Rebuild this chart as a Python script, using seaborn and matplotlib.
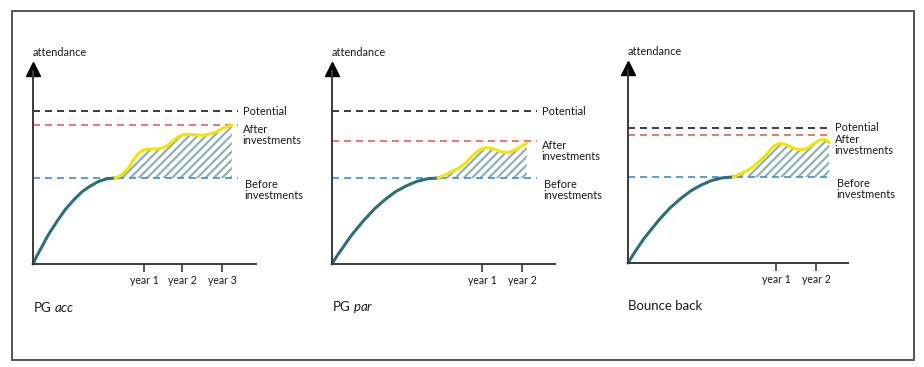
import pandas as pd
import seaborn as sns
import matplotlib.pyplot as plt
from matplotlib.patches import Rectangle

# niveaux de fréquentation (0 = origine, 100 = pointe de la flèche)
titles = ["PG $\\it{acc}$", "PG $\\it{par}$", "Bounce back"]
potential = [76.1, 76.1, 67.2]
after = [69.2, 61.2, 63.7]
before = [42.8, 42.8, 42.8]

tick_pos = [[2.78, 3.73, 4.73], [3.75, 4.75], [3.7, 4.7]]
tick_labels = [["year 1", "year 2", "year 3"], ["year 1", "year 2"], ["year 1", "year 2"]]

# montée avant investissements (courbe verte)
ramp_x1 = [0, 0.10, 0.21, 0.31, 0.41, 0.62, 0.82, 1.03, 1.23, 1.44, 1.64, 1.85, 2.05]
ramp_x2 = [0, 0.13, 0.27, 0.40, 0.53, 0.80, 1.06, 1.33, 1.59, 1.86, 2.12, 2.39, 2.65]
ramp_x3 = [0, 0.13, 0.26, 0.39, 0.53, 0.79, 1.05, 1.32, 1.58, 1.84, 2.10, 2.37, 2.63]
ramp_y = [0, 4.2, 8.1, 11.9, 15.4, 21.8, 27.4, 32.1, 36.0, 38.9, 41.1, 42.4, 42.8]

# après investissements (courbe jaune)
gain_x1 = [2.05, 2.22, 2.38, 2.51, 2.63, 2.76, 2.93, 3.09, 3.26, 3.38,
           3.51, 3.63, 3.76, 3.93, 4.09, 4.26, 4.43, 4.59, 4.76, 4.97]
gain_y1 = [42.8, 44.3, 47.6, 51.7, 55.0, 56.7, 57.2, 57.2, 57.9, 59.2,
           61.3, 63.3, 64.3, 64.5, 64.2, 64.0, 64.7, 65.8, 67.8, 69.0]
gain_x2 = [2.65, 2.83, 2.99, 3.16, 3.33, 3.49, 3.66, 3.83, 3.99, 4.16, 4.33, 4.49, 4.66, 4.87]
gain_y2 = [42.8, 44.3, 46.0, 47.6, 50.1, 53.4, 56.4, 57.9, 57.6, 56.4, 55.4, 55.9, 57.6, 60.2]
gain_x3 = [2.63, 2.80, 2.97, 3.13, 3.30, 3.47, 3.63, 3.78, 3.93, 4.09,
           4.30, 4.47, 4.63, 4.80, 4.93, 5.03]
gain_y3 = [42.8, 44.3, 45.9, 47.9, 50.9, 54.2, 57.9, 59.5, 59.0, 57.6,
           56.2, 56.9, 59.2, 61.2, 61.5, 59.9]

ramps = [(ramp_x1, ramp_y), (ramp_x2, ramp_y), (ramp_x3, ramp_y)]
gains = [(gain_x1, gain_y1), (gain_x2, gain_y2), (gain_x3, gain_y3)]

sns.set_style("white")
plt.rcParams["font.family"] = ["Lato", "DejaVu Sans"]
plt.rcParams["mathtext.fontset"] = "custom"
plt.rcParams["mathtext.rm"] = "Lato"
plt.rcParams["mathtext.it"] = "Lato:italic"
plt.rcParams["hatch.linewidth"] = 1.6

W, H = 924, 367
fig = plt.figure(figsize=(W / 100, H / 100), dpi=100)

# cadre autour de la figure
fig.patches.append(Rectangle((12 / W, 7 / H), 902 / W, 349 / H, transform=fig.transFigure,
                             fill=False, edgecolor="#555555", linewidth=1.4))

# position des panneaux en pixels (gauche, bas de l'axe, largeur)
panels = [(33, 264, 223), (332, 264, 223), (628, 263, 220)]
axis_col = "#3a3a3a"
txt_col = "#1a1a1a"
dash = (4.2, 3)

for i, (px, py, pw) in enumerate(panels):
    ax = fig.add_axes([px / W, (H - py) / H, pw / W, 201 / H])
    ax.set_xlim(0, pw / 40)
    ax.set_ylim(0, 100)
    ax.patch.set_alpha(0)
    for s in ["top", "right"]:
        ax.spines[s].set_visible(False)
    for s in ["left", "bottom"]:
        ax.spines[s].set_color(axis_col)
        ax.spines[s].set_linewidth(1.4)
    ax.spines["left"].set_bounds(0, 96)

    ax.set_yticks([])
    ax.set_xticks(tick_pos[i])
    ax.set_xticklabels(tick_labels[i], fontsize=7.6, color=txt_col)
    ax.tick_params(axis="x", bottom=True, length=6, width=1.2, color=axis_col,
                   pad=2, direction="out")

    # flèche de l'axe vertical
    ax.plot([0], [96.8], marker="^", markersize=9.4, color="black", clip_on=False)
    ax.text(0, 105, "attendance", fontsize=7.8, ha="left", va="center", color=txt_col)
    ax.text(0, -21.5, titles[i], fontsize=9.5, ha="left", va="center", color=txt_col)

    gx, gy = gains[i]
    ax.fill_between(gx, before[i], gy, facecolor="none", edgecolor="#8fb1b8",
                    hatch="////", linewidth=0)

    line_end = (pw - 18) / 40
    for lvl, col in [(potential[i], txt_col), (after[i], "#e8605c"), (before[i], "#3b8fd0")]:
        ax.plot([0, line_end], [lvl, lvl], color=col, lw=1.2, dashes=dash)

    lx = line_end + 0.12
    ax.text(lx, potential[i], "Potential", fontsize=7.9, va="center", color=txt_col)
    ax.text(lx, after[i] + 0.4, "After\ninvestments", fontsize=7.9, va="top",
            linespacing=1.0, color=txt_col)
    ax.text(lx + 0.05, before[i] - 0.5, "Before\ninvestments", fontsize=7.9, va="top",
            linespacing=1.0, color=txt_col)

    rx, ry = ramps[i]
    sns.lineplot(x=rx, y=ry, ax=ax, color="#2e6f77", linewidth=2.2, sort=False,
                 estimator=None, clip_on=False)
    sns.lineplot(x=gx, y=gy, ax=ax, color="#f2e600", linewidth=2.2, sort=False,
                 estimator=None)

fig.savefig("out.png", dpi=100)
